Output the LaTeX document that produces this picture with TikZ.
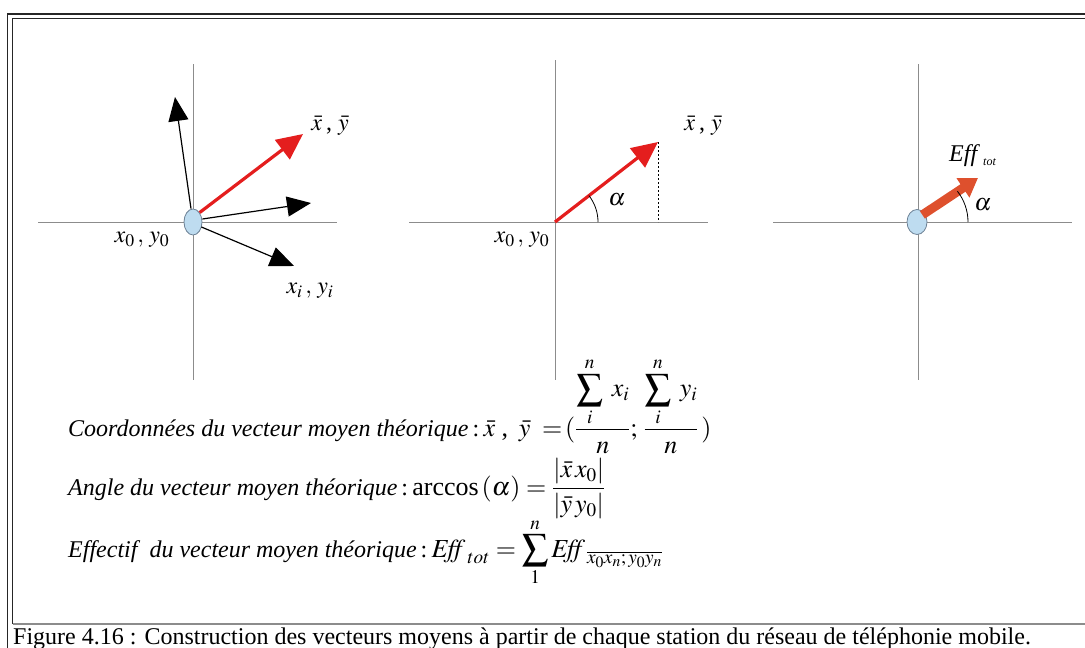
\documentclass[tikz,border=0pt]{standalone}
\usepackage{amsmath}
\usepackage{mathptmx}
\usepackage{fontspec}
\setmainfont{Liberation Serif}
\usetikzlibrary{arrows.meta,shapes.geometric}
\definecolor{axisgray}{RGB}{140,140,140}
\definecolor{vred}{RGB}{228,30,30}
\definecolor{vorange}{RGB}{222,80,45}
\definecolor{station}{RGB}{190,220,240}
\definecolor{stationedge}{RGB}{110,130,150}
\newcommand{\bigmath}{\fontsize{26}{30}\selectfont}
\tikzset{
  axis/.style={draw=axisgray, line width=1pt},
  blackvec/.style={draw=black, line width=1.2pt, -{Triangle[length=24pt,width=20pt]}},
  redvec/.style={draw=vred, line width=3.2pt, -{Triangle[length=26pt,width=24pt]}},
  effvec/.style={draw=vorange, line width=9pt, -{Triangle[length=18pt,width=22pt]}},
  stationnode/.style={ellipse, draw=stationedge, fill=station, line width=0.8pt, minimum width=18pt, minimum height=26pt, inner sep=0pt},
  lbl/.style={font=\fontsize{24}{26}\selectfont, inner sep=0pt},
  formula/.style={anchor=base west, inner sep=0pt, font=\fontsize{24}{28}\selectfont},
  frameline/.style={draw=black!85, line width=1.3pt}
}
\begin{document}
\begin{tikzpicture}[x=1pt,y=-1pt]
\useasboundingbox (0,0) rectangle (1085,648);
% frame
\draw[frameline] (7.5,648) -- (7.5,14) -- (1085,14);
\draw[frameline] (12.5,624) -- (12.5,18.5) -- (1085,18.5);
\draw[draw=axisgray, line width=1.3pt] (12.5,624) -- (1085,624);

% ---------- panel 1 ----------
\draw[axis] (193,64) -- (193,380);
\draw[axis] (38,222) -- (337,222);
\coordinate (p1a) at (175,97);
\coordinate (p1b) at (311,203);
\coordinate (p1c) at (294,266);
\coordinate (p1r) at (303,134);
\node[stationnode] (s1) at (193,222) {};
\draw[blackvec] (s1.north) ++(-2,0) -- (p1a);
\draw[blackvec] (s1.east) ++(0,-3) -- (p1b);
\draw[blackvec] (s1.east) ++(-1,5) -- (p1c);
\draw[redvec] (s1.north east) -- (p1r);
\node[lbl] (l1a) at (330,126) {$\bar{x}$\,,\ $\bar{y}$};
\node[lbl] (l1b) at (142,240) {$x_0\,,\,y_0$};
\node[lbl] (l1c) at (310,291) {$x_i\,,\,y_i$};

% ---------- panel 2 ----------
\draw[axis] (555,60) -- (555,380);
\draw[axis] (409,222) -- (708,222);
\coordinate (o2) at (555,222);
\coordinate (p2r) at (658,142);
\coordinate (p2f) at (658,222);
\draw[redvec] (o2) -- (p2r);
\draw[black, line width=0.8pt, dash pattern=on 2pt off 2pt] (p2r) -- (p2f);
\draw[black, line width=0.8pt] (598,222) arc[start angle=0, end angle=-38, radius=43];
\node[lbl] (al2) at (617,200) {$\alpha$};
\node[lbl] (l2a) at (703,126) {$\bar{x}$\,,\ $\bar{y}$};
\node[lbl] (l2b) at (522,240) {$x_0\,,\,y_0$};

% ---------- panel 3 ----------
\draw[axis] (918,64) -- (918,380);
\draw[axis] (773,222) -- (1072,222);
\coordinate (p3r) at (978,178);
\node[stationnode, minimum width=20pt, minimum height=25pt] (s3) at (917,222) {};
\draw[effvec] (s3.north east) ++(-2,2) -- (p3r);
\draw[black, line width=0.8pt] (968,222) arc[start angle=0, end angle=-38, radius=50];
\node[lbl] (al3) at (983,205) {$\alpha$};
\node[anchor=base west, inner sep=0pt, font=\fontsize{24}{26}\selectfont] (eff) at (949,161) {\textit{Eff}};
\node[anchor=base west, inner sep=0pt, font=\fontsize{12}{14}\selectfont] (tot) at (983,165) {\textit{tot}};

% ---------- formulas ----------
\node[formula] (f1) at (68,436) {\textit{Coordonnées du vecteur moyen théorique}\,:{\bigmath\,$\bar{x}$\ ,\ \,$\bar{y}\;=\!(\dfrac{\displaystyle\sum_{i}^{n}\;x_i}{\,n\,};\,\dfrac{\displaystyle\sum_{i}^{n}\;y_i}{\,n\,}\,)$}};
\node[formula] (f2) at (68,495) {\textit{Angle du vecteur moyen théorique}\,:{\bigmath\,arccos$\,(\alpha)=\dfrac{|\bar{x}\,x_0|}{|\bar{y}\,y_0|}$}};
\node[formula] (f3) at (68,557) {\textit{Effectif\ \ du vecteur moyen théorique}\,:{\bigmath\,$\mathit{Eff}_{\,tot}=\displaystyle\sum_{1}^{n}\mathit{Eff}_{\,\overline{x_0x_n;\,y_0y_n}}$}};

% ---------- caption ----------
\node[anchor=base west, inner sep=0pt, font=\fontsize{24}{26}\selectfont] (cap) at (13,644) {Figure 4.16 : Construction des vecteurs moyens à partir de chaque station du réseau de téléphonie mobile.};
\end{tikzpicture}
\end{document}
